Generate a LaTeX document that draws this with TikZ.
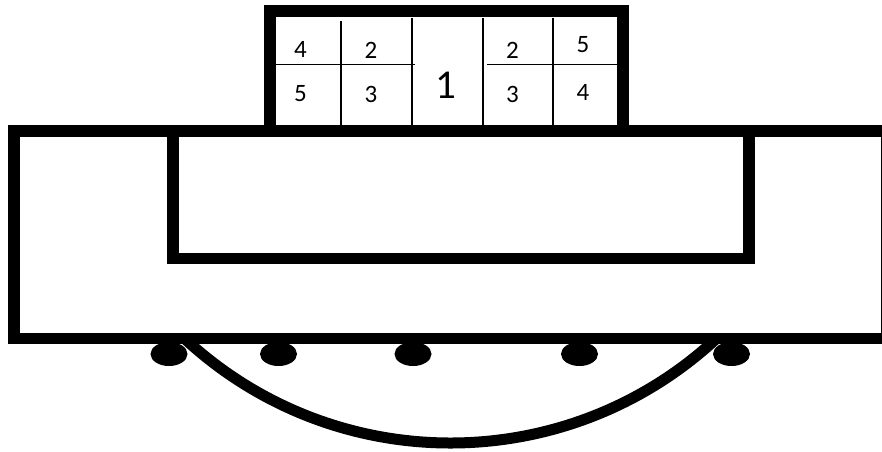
\documentclass[tikz,border=0pt]{standalone}
\usepackage{fontspec}
\setmainfont{Carlito}
\begin{document}
\begin{tikzpicture}[x=1pt,y=-1pt,
  thickline/.style={line width=11.5pt},
  thinline/.style={line width=1.6pt},
  small/.style={font=\fontsize{25}{30}\selectfont, inner sep=0pt, anchor=base},
  big/.style={font=\fontsize{41}{48}\selectfont, inner sep=0pt, anchor=base},
  dot/.style={fill=black}]
\useasboundingbox (0,0) rectangle (882,451);
% dots
\foreach \x/\n in {169/d1,278.5/d2,413/d3,579.5/d4,731.5/d5}
  \fill[dot] (\x,354) ellipse [x radius=18.5, y radius=12];
% arc under the base
\coordinate (cl) at (184,338);
\coordinate (cr) at (717,338);
\draw[line width=11pt] (cl) .. controls (334,478) and (567,478) .. (cr);
% top box
\draw[thickline, line join=miter] (270,131) -- (270,11) -- (623,11) -- (623,131);
% big outer box
\draw[thickline] (14,131) rectangle (887,338.5);
% inner box
\draw[thickline] (173,131) rectangle (749,258.5);
% thin grid lines in top box
\draw[thinline] (341,21) -- (341,125);
\draw[thinline] (412,18) -- (412,125);
\draw[thinline] (483,18) -- (483,125);
\draw[thinline] (553,18) -- (553,125);
\draw[thinline] (276,64.5) -- (415,64.5);
\draw[thinline] (487,64.5) -- (617,64.5);
% labels
\node[small] (a1) at (300.5,57.7) {4};
\node[small] (a2) at (371,58) {2};
\node[small] (a3) at (300.5,101) {5};
\node[small] (a4) at (371,102) {3};
\node[big]   (m)  at (446,98.3) {1};
\node[small] (b1) at (512.5,58) {2};
\node[small] (b2) at (583,52) {5};
\node[small] (b3) at (512.5,102) {3};
\node[small] (b4) at (583,100) {4};
\end{tikzpicture}
\end{document}
